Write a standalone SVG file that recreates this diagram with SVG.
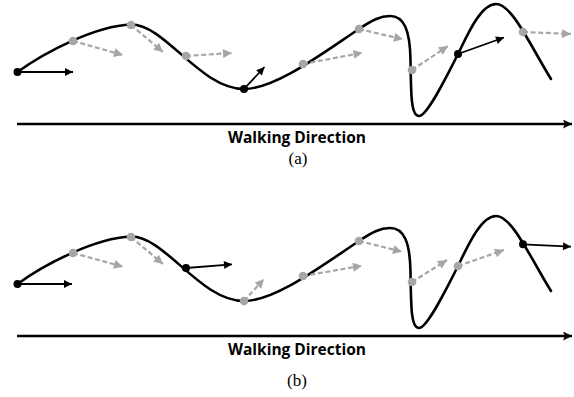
<svg xmlns="http://www.w3.org/2000/svg" xmlns:xlink="http://www.w3.org/1999/xlink" width="574" height="397" viewBox="0 0 574 397">
<style>
.curve{fill:none;stroke:#000;stroke-width:2.6;stroke-linecap:round}
.solid{stroke:#000;stroke-width:1.8;fill:none;marker-end:url(#ah)}
.dash{stroke:#a6a6a6;stroke-width:2.2;fill:none;stroke-dasharray:5 2.6;marker-end:url(#ahg)}
.axis{stroke:#000;stroke-width:2.4;fill:none;marker-end:url(#ahw)}
.bd{fill:#000}
.gd{fill:#a6a6a6}
.lbl{font-family:"Open Sans","Liberation Sans",sans-serif;font-weight:700;font-size:15.5px;fill:#000;text-anchor:middle}
.cap{font-family:"Liberation Serif","DejaVu Serif",serif;font-size:17px;fill:#000;text-anchor:middle}
</style>
<defs>
<marker id="ah" viewBox="0 0 10 10" refX="10" refY="5" markerWidth="9" markerHeight="8" markerUnits="userSpaceOnUse" orient="auto"><path d="M0,0 L10,5 L0,10 z" fill="#000"/></marker>
<marker id="ahg" viewBox="0 0 10 10" refX="10" refY="5" markerWidth="10" markerHeight="9" markerUnits="userSpaceOnUse" orient="auto"><path d="M0,0 L10,5 L0,10 z" fill="#a6a6a6"/></marker>
<marker id="ahw" viewBox="0 0 10 10" refX="10" refY="5" markerWidth="9" markerHeight="9" markerUnits="userSpaceOnUse" orient="auto"><path d="M0,0 L10,5 L0,10 L2,5 z" fill="#000"/></marker>
<path id="wave" d="M17.5,72 C45,52 95,26 131,24.5 C165,24 200,89 244,89 C275,89 320,55 359,29 C372,20.3 380,16 390,16 C404,16 410,30 410.5,60 C411,95 411,116 419,116 C427,116 446,78 458,54 C466,38 480,4 496,4 C512,4 530,45 551,79"/>
</defs>

<g id="curves">
<use xlink:href="#wave" class="curve"/>
<use xlink:href="#wave" class="curve" transform="translate(0,212)"/>
</g>

<g id="connectors">
<!-- panel a -->
<line class="axis" x1="17" y1="124" x2="572" y2="124"/>
<line class="solid" x1="17.5" y1="72" x2="73" y2="72"/>
<line class="solid" x1="244" y1="89" x2="264.5" y2="67"/>
<line class="solid" x1="458" y1="54" x2="504" y2="37.5"/>
<line class="dash" x1="73" y1="41" x2="123" y2="55"/>
<line class="dash" x1="131" y1="25" x2="163" y2="52"/>
<line class="dash" x1="186" y1="56" x2="232" y2="53"/>
<line class="dash" x1="303" y1="64" x2="362.5" y2="52.7"/>
<line class="dash" x1="359" y1="29" x2="403" y2="39.3"/>
<line class="dash" x1="412" y1="70" x2="448" y2="46"/>
<line class="dash" x1="523" y1="32" x2="571" y2="34"/>
<!-- panel b -->
<line class="axis" x1="17" y1="336" x2="572" y2="336"/>
<line class="solid" x1="17.5" y1="284" x2="72" y2="284"/>
<line class="solid" x1="186" y1="268" x2="232" y2="264.3"/>
<line class="solid" x1="523" y1="244.3" x2="571" y2="246.7"/>
<line class="dash" x1="73" y1="253" x2="123" y2="266.7"/>
<line class="dash" x1="131" y1="237" x2="163" y2="264"/>
<line class="dash" x1="244" y1="301" x2="264" y2="279"/>
<line class="dash" x1="303" y1="276" x2="362" y2="265.7"/>
<line class="dash" x1="359" y1="241" x2="402" y2="251.7"/>
<line class="dash" x1="412" y1="282" x2="447" y2="260"/>
<line class="dash" x1="458" y1="266" x2="504" y2="250"/>
</g>

<g id="panel-a-nodes">
<g id="a1"><circle class="bd" cx="17.5" cy="72" r="4"/></g>
<g id="a2"><circle class="gd" cx="73" cy="41" r="4.3"/></g>
<g id="a3"><circle class="gd" cx="131" cy="25" r="4.3"/></g>
<g id="a4"><circle class="gd" cx="186" cy="56" r="4.3"/></g>
<g id="a5"><circle class="bd" cx="244" cy="89" r="4"/></g>
<g id="a6"><circle class="gd" cx="303" cy="64" r="4.3"/></g>
<g id="a7"><circle class="gd" cx="359" cy="29" r="4.3"/></g>
<g id="a8"><circle class="gd" cx="412" cy="70" r="4.3"/></g>
<g id="a9"><circle class="bd" cx="458" cy="54" r="4"/></g>
<g id="a10"><circle class="gd" cx="523" cy="32" r="4.3"/></g>
</g>

<g id="panel-b-nodes">
<g id="b1"><circle class="bd" cx="17.5" cy="284" r="4"/></g>
<g id="b2"><circle class="gd" cx="73" cy="253" r="4.3"/></g>
<g id="b3"><circle class="gd" cx="131" cy="237" r="4.3"/></g>
<g id="b4"><circle class="bd" cx="186" cy="268" r="4"/></g>
<g id="b5"><circle class="gd" cx="244" cy="301" r="4.3"/></g>
<g id="b6"><circle class="gd" cx="303" cy="276" r="4.3"/></g>
<g id="b7"><circle class="gd" cx="359" cy="241" r="4.3"/></g>
<g id="b8"><circle class="gd" cx="412" cy="282" r="4.3"/></g>
<g id="b9"><circle class="gd" cx="458" cy="266" r="4.3"/></g>
<g id="b10"><circle class="bd" cx="523" cy="244.3" r="4"/></g>
</g>

<g id="labels">
<text class="lbl" x="297" y="143">Walking Direction</text>
<text class="cap" x="298" y="164">(a)</text>
<text class="lbl" x="297" y="355">Walking Direction</text>
<text class="cap" x="297" y="386">(b)</text>
</g>
</svg>
